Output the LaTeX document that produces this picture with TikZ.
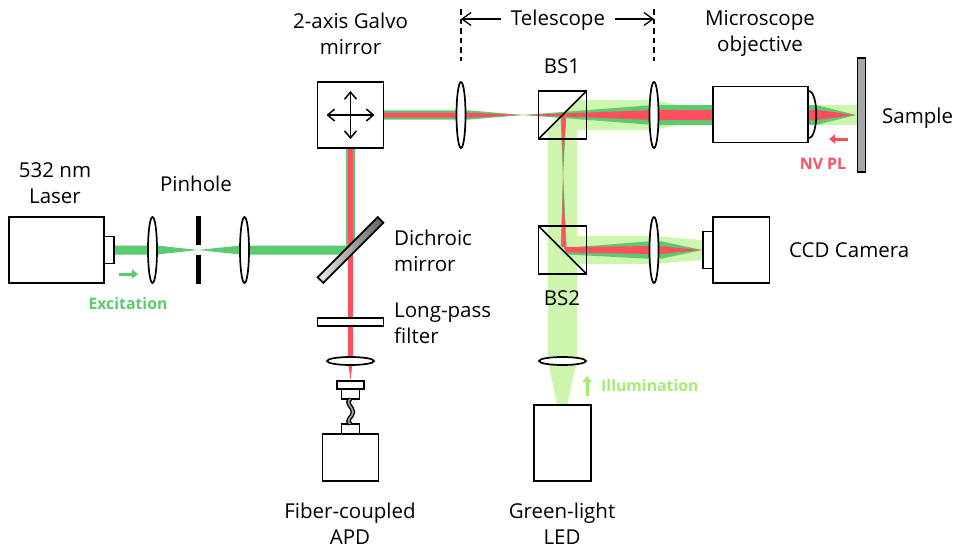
\documentclass[tikz,border=0pt]{standalone}
\usepackage{fontspec}
\setmainfont{Open Sans}
\usetikzlibrary{positioning, arrows.meta, shapes.geometric}
\definecolor{exgreen}{HTML}{5BCB6F}
\definecolor{plred}{HTML}{FF4F5E}
\definecolor{palegreen}{HTML}{CEF5AE}
\definecolor{illumgreen}{HTML}{A2EE70}
\begin{document}
\begin{tikzpicture}[x=1pt,y=-1pt,
    box/.style={draw,line width=1.7pt,fill=white,inner sep=0pt,outer sep=0pt},
    cube/.style={draw,line width=1.7pt,inner sep=0pt,outer sep=0pt,minimum size=48pt},
    vlens/.style={draw,ellipse,line width=1.7pt,fill=white,inner sep=0pt,minimum width=9pt,minimum height=66pt},
    hlens/.style={draw,ellipse,line width=1.7pt,fill=white,inner sep=0pt,minimum width=47pt,minimum height=8pt},
    stopper/.style={fill=black,inner sep=0pt,outer sep=0pt,minimum width=5pt,minimum height=29pt},
    txt/.style={font=\fontsize{20.5}{26}\selectfont,inner sep=0pt,align=center},
    tag/.style={font=\fontsize{15.8}{18}\selectfont\bfseries,inner sep=0pt},
    barb/.style={line width=1.3pt,-{Straight Barb[length=9pt,width=13pt]}},
    fat/.style={line width=3pt,-{Triangle[length=6pt,width=9pt]}}]
    \useasboundingbox (0,0) rectangle (954,550);
    % illumination light
    \fill[palegreen] (548,129) -- (577,100) -- (577,361) -- (567,405) -- (557,405) -- (548,361) -- cycle;
    \fill[palegreen] (577,100) -- (654,100) -- (678,105) -- (713,105) -- (713,125) -- (678,125) -- (654,130) -- (577,130) -- cycle;
    \fill[palegreen] (577,236) -- (654,236) -- (702,240) -- (702,260) -- (654,264) -- (577,264) -- cycle;
    \fill[palegreen] (808,105) rectangle (857,125);
    % excitation beam
    \fill[exgreen] (114,245.5) -- (157,245.5) -- (198,250) -- (240,245.5) -- (350,245.5) -- (350,254.5) -- (240,254.5) -- (198,250) -- (157,254.5) -- (114,254.5) -- cycle;
    \fill[exgreen] (345.8,148) rectangle (355,250);
    \fill[exgreen] (384,110.3) -- (468,110.3) -- (523,115) -- (468,119.7) -- (384,119.7) -- cycle;
    \fill[exgreen] (523,115) -- (654,105) -- (713,105) -- (713,125) -- (654,125) -- cycle;
    \fill[exgreen] (808,105) -- (818,105.5) -- (856,115) -- (818,124.5) -- (808,125) -- cycle;
    \fill[exgreen] (560.5,116) -- (566.5,114) -- (563,175) -- cycle;
    \fill[exgreen] (563,175) -- (566.7,246) -- (560.7,246) -- cycle;
    \fill[exgreen] (564,248) -- (654,241) -- (660,241) -- (702,250) -- (660,259) -- (654,259) -- (568,254.5) -- cycle;
    % photoluminescence
    \fill[plred] (348,148) rectangle (352.8,361);
    \fill[plred] (348,361) -- (352.8,361) -- (350.4,380) -- cycle;
    \fill[plred] (384,112.7) -- (468,112.7) -- (523,115) -- (468,117.7) -- (384,117.7) -- cycle;
    \fill[plred] (523,115) -- (654,110) -- (713,110) -- (713,120) -- (654,120) -- cycle;
    \fill[plred] (808,110) -- (818,110) -- (855,115) -- (818,120) -- (808,120) -- cycle;
    \fill[plred] (561.7,116) -- (565.7,114) -- (563,172) -- cycle;
    \fill[plred] (563,172) -- (565.7,247) -- (561.7,247) -- cycle;
    \fill[plred] (564,247) -- (654,246) -- (660,246) -- (702,250) -- (660,254) -- (654,254) -- (566,252.5) -- cycle;

    % left arm
    \node[box,minimum width=95pt,minimum height=66pt] (laser) at (56.5,250) {};
    \node[box,minimum width=10pt,minimum height=27pt,right=0pt of laser] (laserport) {};
    \node[vlens] (lensa) at (152.5,250) {};
    \node[stopper] (pinholetop) at (198.5,230.5) {};
    \node[stopper] (pinholebot) at (198.5,269.5) {};
    \node[vlens] (lensb) at (244.5,250) {};
    \node[draw,line width=1.7pt,rotate=45,inner sep=0pt,left color=gray!15,right color=gray!75!black,minimum width=85pt,minimum height=8pt] (dichroic) at (350.5,250) {};
    \node[box,minimum size=66pt] (galvo) at (350.5,115) {};
    \node[box,minimum width=66pt,minimum height=8pt] (filter) at (350.5,322) {};
    \node[hlens] (lensc) at (350.5,361) {};
    \node[box,minimum width=27pt,minimum height=8pt] (fibertop) at (350.5,385) {};
    \node[box,minimum width=18pt,minimum height=10pt,below=0pt of fibertop] (fiberneck) {};
    \node[box,minimum width=56pt,minimum height=47pt] (apd) at (350.5,457.5) {};
    \node[box,minimum width=18pt,minimum height=10pt,above=0pt of apd] (fiberfoot) {};
    \coordinate (fibermid) at (353,412);
    \draw[line width=4.4pt,black] (fiberneck.south) .. controls +(-6,4) and +(0,-5) .. (fibermid) .. controls +(0,5) and +(-6,-4) .. (fiberfoot.north);
    \draw[line width=1.6pt,black!35] (fiberneck.south) .. controls +(-6,4) and +(0,-5) .. (fibermid) .. controls +(0,5) and +(-6,-4) .. (fiberfoot.north);

    % telescope and microscope arm
    \node[vlens] (lensd) at (461,115) {};
    \node[cube] (bsa) at (562.5,115) {};
    \draw[line width=1.7pt] (bsa.south west) -- (bsa.north east);
    \node[vlens] (lense) at (654,115) {};
    \node[box,minimum width=95pt,minimum height=56pt] (objective) at (760.5,114.5) {};
    \draw[line width=1.7pt] ([yshift=23.5pt]objective.east) .. controls +(11,-2) and +(11,2) .. ([yshift=-23.5pt]objective.east);
    \node[box,fill=black!35,minimum width=8pt,minimum height=114pt] (sample) at (861.5,115) {};

    % camera arm
    \node[cube] (bsb) at (562.5,250) {};
    \draw[line width=1.7pt] (bsb.north west) -- (bsb.south east);
    \node[vlens] (lensf) at (654,250) {};
    \node[box,minimum width=56.5pt,minimum height=66pt] (camera) at (741.3,250) {};
    \node[box,minimum width=10pt,minimum height=37pt,left=0pt of camera] (cameraport) {};
    \node[hlens] (lensg) at (562.5,361) {};
    \node[box,minimum width=56.5pt,minimum height=76pt] (led) at (562.5,443) {};

    % galvo cross
    \coordinate (crossn) at (350.5,91);
    \coordinate (crosss) at (350.5,139);
    \coordinate (crossw) at (326.5,115);
    \coordinate (crosse) at (374.5,115);
    \draw[line width=1.5pt,{Straight Barb[length=7pt,width=12pt]}-{Straight Barb[length=7pt,width=12pt]}] (crossn) -- (crosss);
    \draw[line width=1.5pt,{Straight Barb[length=7pt,width=12pt]}-{Straight Barb[length=7pt,width=12pt]}] (crossw) -- (crosse);

    % telescope marks
    \node[txt] (telescope) at (558,20) {Telescope};
    \coordinate (marklt) at (461,9);
    \coordinate (marklb) at (461,61);
    \coordinate (markrt) at (654,9);
    \coordinate (markrb) at (654,61);
    \coordinate (arrowl) at (461,19);
    \coordinate (arrowr) at (654,19);
    \draw[line width=1.3pt,dash pattern=on 5.5pt off 4pt] (marklt) -- (marklb);
    \draw[line width=1.3pt,dash pattern=on 5.5pt off 4pt] (markrt) -- (markrb);
    \draw[barb] (telescope.west) ++(-10,-1) -- (arrowl);
    \draw[barb] (telescope.east) ++(10,-1) -- (arrowr);

    % texts
    \node[txt] (galvotext) at (350.5,33.5) {2-axis Galvo\\mirror};
    \node[txt] (objectivetext) at (760,33.5) {Microscope\\objective};
    \node[txt] (bsatext) at (562,66) {BS1};
    \node[txt] (bsbtext) at (562,298) {BS2};
    \node[txt,anchor=west] (sampletext) at (882,118) {Sample};
    \node[txt,anchor=west] (cameratext) at (789,250) {CCD Camera};
    \node[txt] (lasertext) at (55,183) {532 nm\\Laser};
    \node[txt] (pinholetext) at (196,184) {Pinhole};
    \node[txt,anchor=west,align=left] (dichroictext) at (394,251) {Dichroic\\mirror};
    \node[txt,anchor=west,align=left] (filtertext) at (394,323.5) {Long-pass\\filter};
    \node[txt] (apdtext) at (350,524) {Fiber-coupled\\APD};
    \node[txt] (ledtext) at (562,524) {Green-light\\LED};

    % light tags
    \node[tag,text=exgreen] (extag) at (128,304) {Excitation};
    \node[tag,text=illumgreen,anchor=west] (illumtag) at (601,386) {Illumination};
    \node[tag,text=plred] (pltag) at (823,164) {NV PL};
    \coordinate (exa) at (119,274);
    \coordinate (exb) at (138,274);
    \coordinate (ila) at (587,396);
    \coordinate (ilb) at (587,376);
    \coordinate (pla) at (848,139);
    \coordinate (plb) at (829,139);
    \draw[fat,exgreen] (exa) -- (exb);
    \draw[fat,illumgreen] (ila) -- (ilb);
    \draw[fat,plred] (pla) -- (plb);
\end{tikzpicture}
\end{document}
